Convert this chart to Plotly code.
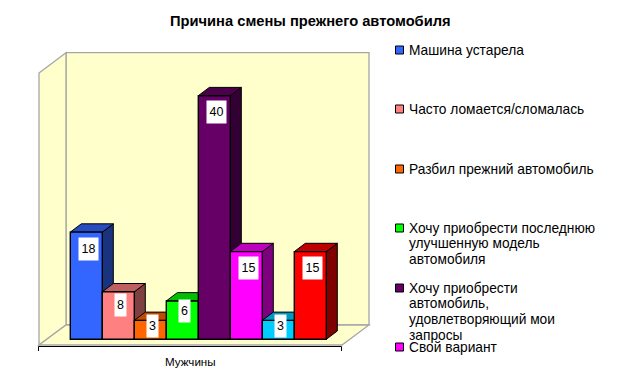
import plotly.graph_objects as go

TITLE = "Причина смены прежнего автомобиля"
CATEGORY = "Мужчины"
series_names = ["Машина устарела", "Часто ломается/сломалась", "Разбил прежний автомобиль",
                "Хочу приобрести последнюю улучшенную модель автомобиля",
                "Хочу приобрести автомобиль, удовлетворяющий мои запросы",
                "Свой вариант", "Другое 1", "Другое 2"]
bar_heights = [17.6, 7.8, 3.1, 6.3, 40.0, 14.4, 3.1, 14.4]
bar_labels = ["18", "8", "3", "6", "40", "15", "3", "15"]
colors = ["#3366FF", "#FF8080", "#FF6600", "#00FF00", "#660066", "#FF00FF", "#00CCFF", "#FF0000"]
legend_lines = [["Машина устарела"], ["Часто ломается/сломалась"], ["Разбил прежний автомобиль"],
                ["Хочу приобрести последнюю", "улучшенную модель", "автомобиля"],
                ["Хочу приобрести", "автомобиль,", "удовлетворяющий мои", "запросы"],
                ["Свой вариант"]]
legend_y = [50, 109, 169, 228, 288, 347]

W, H = 620, 384
PX_X, PX_Y = 32.0, 6.09        # pixels per bar slot / per value unit
X0, Y0 = 70.3, 339.3           # pixel position of the first bar's left edge and of the baseline
DX, DY = 11 / PX_X, 8.3 / PX_Y # depth of the 3-D effect in data units
FONT = "Liberation Sans, Arial, sans-serif"

xr = [-0.5 - X0 / PX_X, -0.5 + (W - X0) / PX_X]
yr = [-(H - Y0) / PX_Y, Y0 / PX_Y]


def shade(hex_color, k):
    r, g, b = (int(hex_color[i:i + 2], 16) for i in (1, 3, 5))
    return f"rgb({int(r * k)},{int(g * k)},{int(b * k)})"


def px_path(points):
    parts = [f"{x / W:.5f},{1 - y / H:.5f}" for x, y in points]
    return "M" + " L".join(parts) + " Z"


fig = go.Figure()

# depth faces below, fronts on an overlaid subplot above
for i, (name, v, c) in enumerate(zip(series_names, bar_heights, colors)):
    l, r = i - 0.5, i + 0.5
    fig.add_trace(go.Scatter(x=[r, r + DX, r + DX, r, r], y=[0, DY, v + DY, v, 0],
                             mode="lines", fill="toself", fillcolor=shade(c, 0.5),
                             line=dict(color="black", width=1), hoverinfo="skip", showlegend=False))
    fig.add_trace(go.Scatter(x=[l, l + DX, r + DX, r, l], y=[v, v + DY, v + DY, v, v],
                             mode="lines", fill="toself", fillcolor=shade(c, 0.75),
                             line=dict(color="black", width=1), hoverinfo="skip", showlegend=False))
for i, (name, v, c) in enumerate(zip(series_names, bar_heights, colors)):
    fig.add_trace(go.Bar(x=[i], y=[v], width=1, name=name, xaxis="x2", yaxis="y2",
                         marker=dict(color=c, line=dict(color="black", width=1.4)),
                         showlegend=False))

WALL = "#FFFFCC"
EDGE = "#A6A6A6"
walls = [
    [(66, 52.7), (369, 52.7), (369, 325), (66, 325)],
    [(39, 73), (66, 52.7), (66, 325), (39, 345)],
    [(39, 345), (66, 325), (369, 325), (342, 345)],
]
shapes = [dict(type="path", xref="paper", yref="paper", path=px_path(p), fillcolor=WALL,
               line=dict(color=EDGE, width=1.3), layer="below") for p in walls]
for seg in [((38.5, 346.5), (341.5, 346.5)), ((38.5, 346.5), (38.5, 351)), ((341.5, 346.5), (341.5, 351))]:
    shapes.append(dict(type="line", xref="paper", yref="paper", x0=seg[0][0] / W, x1=seg[1][0] / W,
                       y0=1 - seg[0][1] / H, y1=1 - seg[1][1] / H, line=dict(color="black", width=1)))

annotations = [
    dict(text=f"<b>{TITLE}</b>", xref="paper", yref="paper", x=310 / W, y=1 - 21 / H, showarrow=False,
         font=dict(family=FONT, size=14.7, color="black"), xanchor="center", yanchor="middle"),
    dict(text=CATEGORY, xref="paper", yref="paper", x=190 / W, y=1 - 361 / H, showarrow=False,
         font=dict(family=FONT, size=11.6, color="black"), xanchor="center", yanchor="middle"),
]
# white value labels
for i, (v, t) in enumerate(zip(bar_heights, bar_labels)):
    off = min(1.65 * v, 16.5)
    annotations.append(dict(text=t, x=i + 2.5 / PX_X, y=v - off / PX_Y, xref="x", yref="y", showarrow=False,
                            font=dict(family=FONT, size=12.5, color="black"), bgcolor="white",
                            width=19 if len(t) > 1 else 11, height=22, align="center", borderpad=0,
                            xanchor="center", yanchor="middle"))
# legend
for c, lines, y in zip(colors, legend_lines, legend_y):
    shapes.append(dict(type="rect", xref="paper", yref="paper", x0=395.5 / W, x1=403.5 / W,
                       y0=1 - (y - 4) / H, y1=1 - (y + 4) / H, fillcolor=c,
                       line=dict(color="black", width=1)))
    for k, t in enumerate(lines):
        annotations.append(dict(text=t, xref="paper", yref="paper", x=407.5 / W, y=1 - (y + k * 15.8) / H,
                                showarrow=False, align="left", xanchor="left", yanchor="middle",
                                font=dict(family=FONT, size=13.75, color="black"), borderpad=0))

hidden = dict(visible=False, fixedrange=True)
fig.update_layout(
    width=W, height=H, margin=dict(l=0, r=0, t=0, b=0), autosize=False,
    paper_bgcolor="white", plot_bgcolor="rgba(0,0,0,0)", showlegend=False,
    xaxis=dict(range=xr, domain=[0, 1], **hidden), yaxis=dict(range=yr, domain=[0, 1], **hidden),
    xaxis2=dict(range=xr, overlaying="x", **hidden), yaxis2=dict(range=yr, overlaying="y", **hidden),
    shapes=shapes, annotations=annotations, barmode="overlay",
)
fig.write_html("out.html", config=dict(displayModeBar=False),
               post_script="document.body.style.margin='0';document.body.style.overflow='hidden';")
